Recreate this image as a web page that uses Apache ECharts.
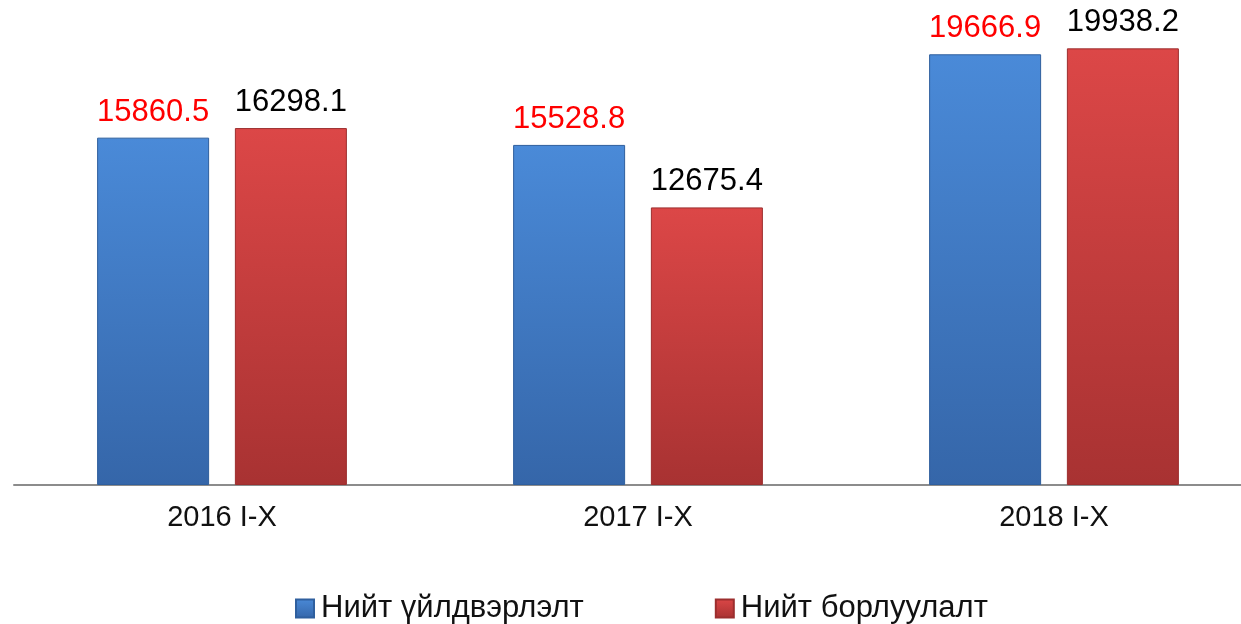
<!DOCTYPE html>
<html>
<head>
<meta charset="utf-8">
<script src="https://cdn.jsdelivr.net/npm/echarts@6/dist/echarts.min.js"></script>
<style>
  html, body { margin: 0; padding: 0; background: #fff; }
  #chart { width: 1241px; height: 624px; }
</style>
</head>
<body>
<div id="chart"></div>
<script>
  // data
  const categories = ['2016 I-X', '2017 I-X', '2018 I-X'];
  const production = [15860.5, 15528.8, 19666.9];
  const sales = [16298.1, 12675.4, 19938.2];
  const seriesNames = ['Нийт үйлдвэрлэлт', 'Нийт борлуулалт'];

  const font = 'Arial, "Liberation Sans", sans-serif';

  const grad = (top, bottom) => new echarts.graphic.LinearGradient(0, 0, 0, 1, [
    { offset: 0, color: top },
    { offset: 1, color: bottom },
  ]);

  const myChart = echarts.init(document.getElementById('chart'));
  myChart.setOption({
    animation: false,
    // axis runs past the right edge of the picture
    grid: { left: 14, width: 1248, top: 47, bottom: 139, outerBoundsMode: 'none' },
    legend: {
      top: 588,
      left: 290,
      itemWidth: 18,
      itemHeight: 18,
      itemGap: 131,
      icon: 'rect',
      textStyle: { fontFamily: font, fontSize: 31, color: '#111', padding: [0, 0, 0, 2] },
      data: seriesNames,
    },
    xAxis: {
      type: 'category',
      data: categories,
      axisLine: { lineStyle: { color: '#8c8c8c', width: 2 } },
      axisTick: { show: false },
      axisLabel: { fontFamily: font, fontSize: 29, color: '#111', margin: 18 },
    },
    yAxis: {
      type: 'value',
      min: 0,
      max: 20000,
      show: false,
      splitLine: { show: false },
    },
    series: [
      {
        name: seriesNames[0],
        type: 'bar',
        barWidth: 112,
        barGap: '23%',
        data: production,
        itemStyle: {
          color: grad('#4a8ad8', '#3566a9'),
          borderColor: '#2f5f9e',
          borderWidth: 1,
        },
        label: {
          show: true,
          position: 'top',
          distance: 10,
          fontFamily: font,
          fontSize: 31,
          color: '#ff0000',
        },
      },
      {
        name: seriesNames[1],
        type: 'bar',
        barWidth: 112,
        data: sales,
        itemStyle: {
          color: grad('#dc4747', '#a83232'),
          borderColor: '#9c2e2e',
          borderWidth: 1,
        },
        label: {
          show: true,
          position: 'top',
          distance: 10,
          fontFamily: font,
          fontSize: 31,
          color: '#000',
        },
      },
    ],
  });
</script>
</body>
</html>
